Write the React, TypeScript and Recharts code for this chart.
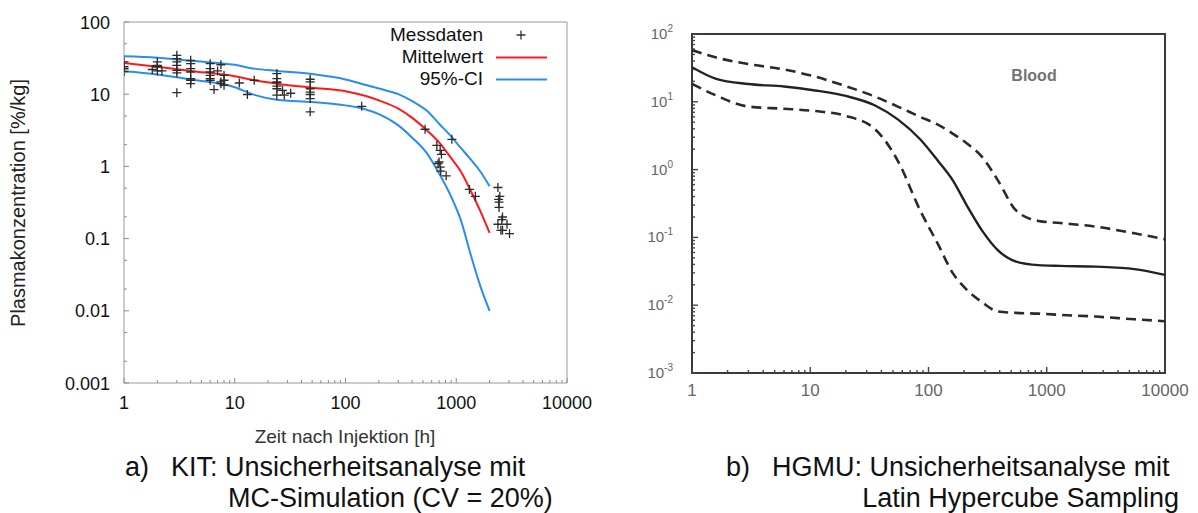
import React from 'react';
import { ComposedChart, XAxis, YAxis, Line, Scatter, ReferenceArea } from 'recharts';

const FONT = '"Liberation Sans", Arial, Helvetica, sans-serif';

// ---------- Chart a) KIT ----------
const kitXMajor = [1, 10, 100, 1000, 10000];
const kitXLabels = ['1', '10', '100', '1000', '10000'];
const kitYMajor = [0.001, 0.01, 0.1, 1, 10, 100];
const kitYLabels = ['0.001', '0.01', '0.1', '1', '10', '100'];
const kitXMinorFactors = [2, 3, 4, 5, 6, 7, 8, 9];
const kitYMinorFactors = [2, 5];

const kitCurveTime = [1, 2, 4, 10, 15, 24, 50, 100, 150, 200, 300, 400, 550, 700, 900, 1100, 1350, 1650, 2000];
const kitMean = [27, 24, 21, 17.7, 15.6, 14, 12.3, 11, 9.5, 8.2, 6.3, 4.7, 3.1, 2.15, 1.3, 0.85, 0.46, 0.24, 0.12];
const kitUpper = [33.5, 32, 29, 25.5, 22.6, 21, 19, 16, 13.5, 12, 10, 8, 5.8, 3.9, 2.6, 1.8, 1.25, 0.85, 0.53];
const kitLower = [20.8, 18.8, 16, 12.5, 9.8, 8.4, 7.8, 7.0, 6.2, 5.3, 3.7, 2.5, 1.48, 0.8, 0.38, 0.18, 0.06, 0.022, 0.01];

const kitPointTime = [
  1, 1, 1, 1, 1.8, 2, 2, 2, 2, 2.2,
  3, 3, 3, 3, 3, 3, 3,
  4, 4, 4, 4, 4, 4, 4,
  6, 6, 6, 6, 6, 6, 6.5, 7, 7.5, 7.5, 7.5, 8, 8, 8,
  11, 13, 15,
  24, 24, 24, 24, 24, 24, 24, 27, 28, 32,
  48, 48, 48, 48, 48, 48, 48,
  140,
  523, 913, 668, 716, 735, 700, 685, 716, 725, 811, 1316, 1487,
  2378, 2473, 2413, 2433, 2433, 2617, 2580, 2378, 2870, 2530, 2617, 3028,
];
const kitPointConc = [
  28, 24, 22.5, 20.5, 22, 28, 25, 24, 21, 21,
  34.6, 31, 28, 25, 21.4, 19.7, 10.5,
  29.5, 26.5, 22.6, 20.3, 16.4, 15.6, 14,
  26.5, 22.6, 20.3, 18.2, 16.4, 15.6, 11.6, 21, 25.6, 14.8, 14, 18.2, 15.6, 13.3,
  14.3, 9.9, 15.6,
  19.3, 16.4, 14.8, 14.5, 12.9, 11.9, 9.7, 11.3, 9.7, 10.3,
  16.1, 14.8, 11.9, 10.7, 9.9, 8.7, 5.7,
  6.8,
  3.27, 2.37, 1.96, 1.67, 1.47, 1.15, 1.09, 0.98, 0.86, 0.74, 0.48, 0.385,
  0.51, 0.385, 0.35, 0.32, 0.27, 0.199, 0.183, 0.158, 0.158, 0.13, 0.13, 0.117,
];

const kitLegend = [
  { name: 'Messdaten', kind: 'plus', color: '#333' },
  { name: 'Mittelwert', kind: 'line', color: '#ff1a1a' },
  { name: '95%-CI', kind: 'line', color: '#2a8cf0' },
];

// ---------- Chart b) HGMU ----------
const hgXMajor = [1, 10, 100, 1000, 10000];
const hgXLabels = ['1', '10', '100', '1000', '10000'];
const hgYMajor = [0.001, 0.01, 0.1, 1, 10, 100];
const hgYExp = ['-3', '-2', '-1', '0', '1', '2'];
const hgMinorFactors = [2, 3, 4, 5, 6, 7, 8, 9];

const hgTime = [1, 1.6, 3, 6, 11, 20, 35, 55, 85, 120, 160, 210, 285, 385, 550, 850, 1300, 2600, 5500, 10000];
const hgMedian = [32.4, 21.8, 18.3, 16.8, 14.7, 12.2, 8.9, 5.5, 2.8, 1.35, 0.7, 0.3, 0.125, 0.065, 0.044, 0.039, 0.038, 0.037, 0.034, 0.028];
const hgUpper = [58, 45, 36, 30, 23.5, 17, 12, 8.5, 6.0, 4.6, 3.4, 2.45, 1.53, 0.7, 0.25, 0.175, 0.163, 0.144, 0.115, 0.094];
const hgLower = [18.4, 12.4, 8.5, 7.9, 7.3, 6.2, 4.0, 1.35, 0.25, 0.08, 0.03, 0.017, 0.011, 0.0081, 0.0077, 0.0075, 0.0072, 0.0068, 0.0062, 0.0058];

// ---------- helpers ----------
const zip = (xs: number[], ys: number[]) => xs.map((x, i) => ({ x, y: ys[i] }));
const minorTicks = (majors: number[], factors: number[]) =>
  majors.slice(0, -1).flatMap((d) => factors.map((f) => +(f * d).toPrecision(6)));
const allTicks = (majors: number[], factors: number[]) =>
  [...majors, ...minorTicks(majors, factors)].sort((a, b) => a - b);
const majorIndex = (majors: number[], v: number) => majors.findIndex((m) => Math.abs(m - v) / m < 1e-6);

type Side = 'bottom' | 'top' | 'left' | 'right';
interface TickOpts {
  major: number;
  minor: number;
  color: string;
  width: number;
  label?: (i: number, x: number, y: number) => React.ReactNode;
}
function makeTick(side: Side, majors: number[], o: TickOpts) {
  return (props: any) => {
    const x = Number(props.x);
    const y = Number(props.y);
    const idx = majorIndex(majors, Number(props.payload?.value));
    const maj = idx >= 0;
    const len = maj ? o.major : o.minor;
    let d = '';
    if (side === 'bottom') d = `M${x},${y}V${y - len}`;
    if (side === 'top') d = `M${x},${y}V${y + len}`;
    if (side === 'left') d = `M${x},${y}H${x + len}`;
    if (side === 'right') d = `M${x},${y}H${x - len}`;
    return (
      <g>
        <path d={d} stroke={o.color} strokeWidth={o.width} fill="none" />
        {maj && o.label ? o.label(idx, x, y) : null}
      </g>
    );
  };
}

const PlusShape = (props: any) => {
  const { cx, cy } = props;
  if (cx == null || cy == null) return <g />;
  return (
    <path
      d={`M${cx - 4.5},${cy}H${cx + 4.5}M${cx},${cy - 4.5}V${cy + 4.5}`}
      stroke="#2b2b2b"
      strokeWidth={1.3}
      fill="none"
    />
  );
};

const kitXAll = allTicks(kitXMajor, kitXMinorFactors);
const kitYAll = allTicks(kitYMajor, kitYMinorFactors);
const hgXAll = allTicks(hgXMajor, hgMinorFactors);
const hgYAll = allTicks(hgYMajor, hgMinorFactors);

const kitTickStyle = { major: 5, minor: 3, color: '#8a8a8a', width: 1 };
const kitBottomTick = makeTick('bottom', kitXMajor, {
  ...kitTickStyle,
  label: (i, x, y) => (
    <text x={x} y={y + 26} textAnchor="middle" fontSize={18} fill="#111" fontFamily={FONT}>
      {kitXLabels[i]}
    </text>
  ),
});
const kitLeftTick = makeTick('left', kitYMajor, {
  ...kitTickStyle,
  label: (i, x, y) => (
    <text x={x - 14} y={y + 6.5} textAnchor="end" fontSize={18} fill="#111" fontFamily={FONT}>
      {kitYLabels[i]}
    </text>
  ),
});
const kitTopTick = makeTick('top', kitXMajor, kitTickStyle);
const kitRightTick = makeTick('right', kitYMajor, kitTickStyle);

const hgTickStyle = { major: 6, minor: 3, color: '#444', width: 1.4 };
const hgBottomTick = makeTick('bottom', hgXMajor, {
  ...hgTickStyle,
  label: (i, x, y) => (
    <text x={x} y={y + 23} textAnchor="middle" fontSize={17} fill="#666" fontFamily={FONT}>
      {hgXLabels[i]}
    </text>
  ),
});
const hgLeftTick = makeTick('left', hgYMajor, {
  ...hgTickStyle,
  label: (i, x, y) => (
    <text x={x - 19} y={y + 5} textAnchor="end" fontSize={15} fill="#666" fontFamily={FONT}>
      10
      <tspan dy={-7} fontSize={10}>
        {hgYExp[i]}
      </tspan>
    </text>
  ),
});
const hgTopTick = makeTick('top', hgXMajor, hgTickStyle);
const hgRightTick = makeTick('right', hgYMajor, hgTickStyle);

export default function App() {
  const kitMeanData = zip(kitCurveTime, kitMean);
  const kitUpperData = zip(kitCurveTime, kitUpper);
  const kitLowerData = zip(kitCurveTime, kitLower);
  const kitPoints = zip(kitPointTime, kitPointConc);
  const hgMedData = zip(hgTime, hgMedian);
  const hgUpData = zip(hgTime, hgUpper);
  const hgLoData = zip(hgTime, hgLower);

  const axisCommon = { type: 'number' as const, scale: 'log' as const, allowDataOverflow: true, interval: 0 as const, tickSize: 0, tickMargin: 0, tickLine: false };

  const cap = { position: 'absolute' as const, fontSize: 27, color: '#111', lineHeight: '30px', whiteSpace: 'nowrap' as const };

  return (
    <div style={{ position: 'fixed', left: 0, top: 0, width: 1198, height: 513, background: '#fff', fontFamily: FONT, overflow: 'hidden' }}>
      {/* Chart a */}
      <div style={{ position: 'absolute', left: 0, top: 0 }}>
        <ComposedChart width={600} height={440} margin={{ top: 22, right: 33, bottom: 17, left: 64 }}>
          <XAxis xAxisId="b" orientation="bottom" dataKey="x" domain={[1, 10000]} ticks={kitXAll} height={40} axisLine={false} tick={kitBottomTick} {...axisCommon} />
          <XAxis xAxisId="t" orientation="top" dataKey="x" domain={[1, 10000]} ticks={kitXAll} height={0} axisLine={false} tick={kitTopTick} {...axisCommon} />
          <YAxis yAxisId="l" orientation="left" dataKey="y" domain={[0.001, 100]} ticks={kitYAll} width={60} axisLine={false} tick={kitLeftTick} {...axisCommon} />
          <YAxis yAxisId="r" orientation="right" dataKey="y" domain={[0.001, 100]} ticks={kitYAll} width={0} axisLine={false} tick={kitRightTick} {...axisCommon} />
          <ReferenceArea xAxisId="b" yAxisId="l" x1={1} x2={10000} y1={0.001} y2={100} fill="none" fillOpacity={0} stroke="#9a9a9a" strokeWidth={1} ifOverflow="visible" />
          <Line xAxisId="b" yAxisId="l" data={kitUpperData} dataKey="y" type="monotone" stroke="#2a8cf0" strokeWidth={2} dot={false} isAnimationActive={false} />
          <Line xAxisId="b" yAxisId="l" data={kitLowerData} dataKey="y" type="monotone" stroke="#2a8cf0" strokeWidth={2} dot={false} isAnimationActive={false} />
          <Line xAxisId="b" yAxisId="l" data={kitMeanData} dataKey="y" type="monotone" stroke="#ff1a1a" strokeWidth={2} dot={false} isAnimationActive={false} />
          <Scatter xAxisId="b" yAxisId="l" data={kitPoints} dataKey="y" shape={PlusShape} isAnimationActive={false} />
        </ComposedChart>
      </div>

      {/* legend a */}
      {kitLegend.map((it, i) => (
        <div key={it.name} style={{ position: 'absolute', left: 300, top: 24 + i * 22, width: 483 - 300, height: 22, lineHeight: '22px', textAlign: 'right', fontSize: 19, color: '#111' }}>
          {it.name}
        </div>
      ))}
      {kitLegend.map((it, i) => (
        <svg key={it.name + 's'} style={{ position: 'absolute', left: 494, top: 24 + i * 22 }} width={56} height={22}>
          {it.kind === 'plus' ? (
            <path d="M22.5,11H31.5M27,6.5V15.5" stroke={it.color} strokeWidth={1.3} />
          ) : (
            <path d="M2,11.5H53" stroke={it.color} strokeWidth={2} />
          )}
        </svg>
      ))}

      {/* axis titles a */}
      <div style={{ position: 'absolute', left: 18 - 150, top: 203 - 12, width: 300, height: 24, lineHeight: '24px', textAlign: 'center', fontSize: 20, color: '#222', transform: 'rotate(-90deg)' }}>
        Plasmakonzentration [%/kg]
      </div>
      <div style={{ position: 'absolute', left: 345 - 150, top: 426, width: 300, height: 22, lineHeight: '22px', textAlign: 'center', fontSize: 19, color: '#333' }}>
        Zeit nach Injektion [h]
      </div>

      {/* Chart b */}
      <div style={{ position: 'absolute', left: 600, top: 0 }}>
        <ComposedChart width={598} height={440} margin={{ top: 34, right: 33, bottom: 27, left: 32 }}>
          <XAxis xAxisId="b" orientation="bottom" dataKey="x" domain={[1, 10000]} ticks={hgXAll} height={40} axisLine={false} tick={hgBottomTick} {...axisCommon} />
          <XAxis xAxisId="t" orientation="top" dataKey="x" domain={[1, 10000]} ticks={hgXAll} height={0} axisLine={false} tick={hgTopTick} {...axisCommon} />
          <YAxis yAxisId="l" orientation="left" dataKey="y" domain={[0.001, 100]} ticks={hgYAll} width={60} axisLine={false} tick={hgLeftTick} {...axisCommon} />
          <YAxis yAxisId="r" orientation="right" dataKey="y" domain={[0.001, 100]} ticks={hgYAll} width={0} axisLine={false} tick={hgRightTick} {...axisCommon} />
          <ReferenceArea xAxisId="b" yAxisId="l" x1={1} x2={10000} y1={0.001} y2={100} fill="none" fillOpacity={0} stroke="#3a3a3a" strokeWidth={2} ifOverflow="visible" />
          <Line xAxisId="b" yAxisId="l" data={hgUpData} dataKey="y" type="monotone" stroke="#2a2a2a" strokeWidth={2.6} strokeDasharray="10 6" dot={false} isAnimationActive={false} />
          <Line xAxisId="b" yAxisId="l" data={hgLoData} dataKey="y" type="monotone" stroke="#2a2a2a" strokeWidth={2.6} strokeDasharray="10 6" dot={false} isAnimationActive={false} />
          <Line xAxisId="b" yAxisId="l" data={hgMedData} dataKey="y" type="monotone" stroke="#222" strokeWidth={2.4} dot={false} isAnimationActive={false} />
        </ComposedChart>
      </div>
      <div style={{ position: 'absolute', left: 1034 - 40, top: 67, width: 80, textAlign: 'center', fontSize: 16, fontWeight: 'bold', color: '#727272' }}>
        Blood
      </div>

      {/* captions */}
      <div style={{ ...cap, left: 125, top: 452 }}>a)</div>
      <div style={{ ...cap, left: 171, top: 452 }}>KIT: Unsicherheitsanalyse mit</div>
      <div style={{ ...cap, left: 228, top: 483 }}>MC-Simulation (CV = 20%)</div>
      <div style={{ ...cap, left: 726, top: 452 }}>b)</div>
      <div style={{ ...cap, left: 772, top: 452 }}>HGMU: Unsicherheitsanalyse mit</div>
      <div style={{ ...cap, right: 1198 - 1179, top: 483 }}>Latin Hypercube Sampling</div>
    </div>
  );
}
